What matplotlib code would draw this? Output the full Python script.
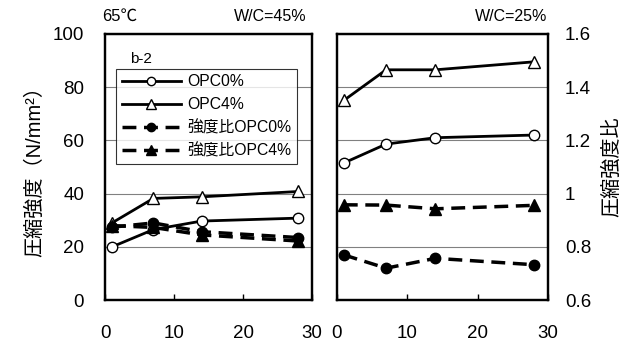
import matplotlib
matplotlib.use("Agg")
import matplotlib.pyplot as plt
from matplotlib.lines import Line2D

plt.rcParams['font.family'] = ['Liberation Sans', 'Noto Sans CJK JP', 'DejaVu Sans']

# 材齢 (日)
days = [1, 7, 14, 28]

# W/C=45%
opc0_45 = [20, 26.5, 29.7, 30.8]
opc4_45 = [29, 38.2, 38.8, 40.8]
ratio0_45 = [0.874, 0.89, 0.857, 0.835]
ratio4_45 = [0.88, 0.873, 0.845, 0.822]

# W/C=25%
opc0_25 = [51.5, 58.6, 61.0, 62.0]
opc4_25 = [75.0, 86.5, 86.5, 89.5]
ratio0_25 = [0.77, 0.72, 0.757, 0.733]
ratio4_25 = [0.958, 0.957, 0.943, 0.956]

labels = ['OPC0%', 'OPC4%', '強度比OPC0%', '強度比OPC4%']

fig = plt.figure(figsize=(6.33, 3.49), dpi=100)
ax1 = fig.add_axes([0.166, 0.140, 0.327, 0.763])
ax2 = fig.add_axes([0.532, 0.140, 0.334, 0.763])

dash = (4, 2.2)


def draw(ax, s0, s4, r0, r4):
    tw = ax.twinx()
    ax.plot(days, s0, '-', color='black', lw=2, marker='o', ms=7.5,
            mfc='white', mec='black', mew=1, zorder=3)
    ax.plot(days, s4, '-', color='black', lw=2, marker='^', ms=9,
            mfc='white', mec='black', mew=1, zorder=3)
    tw.plot(days, r0, color='black', lw=2.5, dashes=dash, marker='o', ms=7.5,
            mfc='black', mec='black')
    tw.plot(days, r4, color='black', lw=2.5, dashes=dash, marker='^', ms=8.5,
            mfc='black', mec='black')
    ax.set_xlim(0, 30)
    ax.set_ylim(0, 100)
    tw.set_ylim(0.6, 1.6)
    ax.set_xticks([0, 10, 20, 30])
    ax.set_yticks([0, 20, 40, 60, 80, 100])
    tw.set_yticks([0.6, 0.8, 1.0, 1.2, 1.4, 1.6])
    tw.set_yticklabels(['0.6', '0.8', '1', '1.2', '1.4', '1.6'])
    ax.grid(axis='y', color='#808080', lw=0.8)
    ax.tick_params(axis='x', direction='in', length=4, width=1,
                   labelsize=13.5, pad=18)
    ax.tick_params(axis='y', length=0, labelsize=13.5, pad=15)
    tw.tick_params(axis='y', length=0, labelsize=13.5, pad=12)
    for a in (ax, tw):
        for sp in a.spines.values():
            sp.set_linewidth(1.6)
    return tw


tw1 = draw(ax1, opc0_45, opc4_45, ratio0_45, ratio4_45)
tw2 = draw(ax2, opc0_25, opc4_25, ratio0_25, ratio4_25)

tw1.set_yticklabels([])
ax2.set_yticklabels([])

ax1.set_ylabel('圧縮強度（N/mm²）', fontsize=14.5, labelpad=6)
tw2.set_ylabel('圧縮強度比', fontsize=14.5, labelpad=8)

ax1.text(-0.015, 1.05, '65℃', transform=ax1.transAxes, fontsize=12)
ax1.text(0.975, 1.05, 'W/C=45%', transform=ax1.transAxes, fontsize=11.5, ha='right')
ax2.text(0.825, 1.05, 'W/C=25%', transform=ax2.transAxes, fontsize=11.5, ha='center')
tw1.text(0.12, 0.89, 'b-2', transform=ax1.transAxes, fontsize=11)

handles = [
    Line2D([], [], color='black', lw=2, marker='o', ms=6, mfc='white', mec='black'),
    Line2D([], [], color='black', lw=2, marker='^', ms=7, mfc='white', mec='black'),
    Line2D([], [], color='black', lw=2.5, dashes=dash, marker='o', ms=6, mfc='black'),
    Line2D([], [], color='black', lw=2.5, dashes=dash, marker='^', ms=7, mfc='black'),
]
leg = tw1.legend(handles, labels, loc='upper left', bbox_to_anchor=(0.053, 0.868),
                 fontsize=11.3, frameon=True, fancybox=False, edgecolor='black',
                 handlelength=3.8, handletextpad=0.4, borderpad=0.35,
                 labelspacing=0.5, borderaxespad=0)
leg.get_frame().set_linewidth(0.8)

plt.savefig('out.png', dpi=100)
